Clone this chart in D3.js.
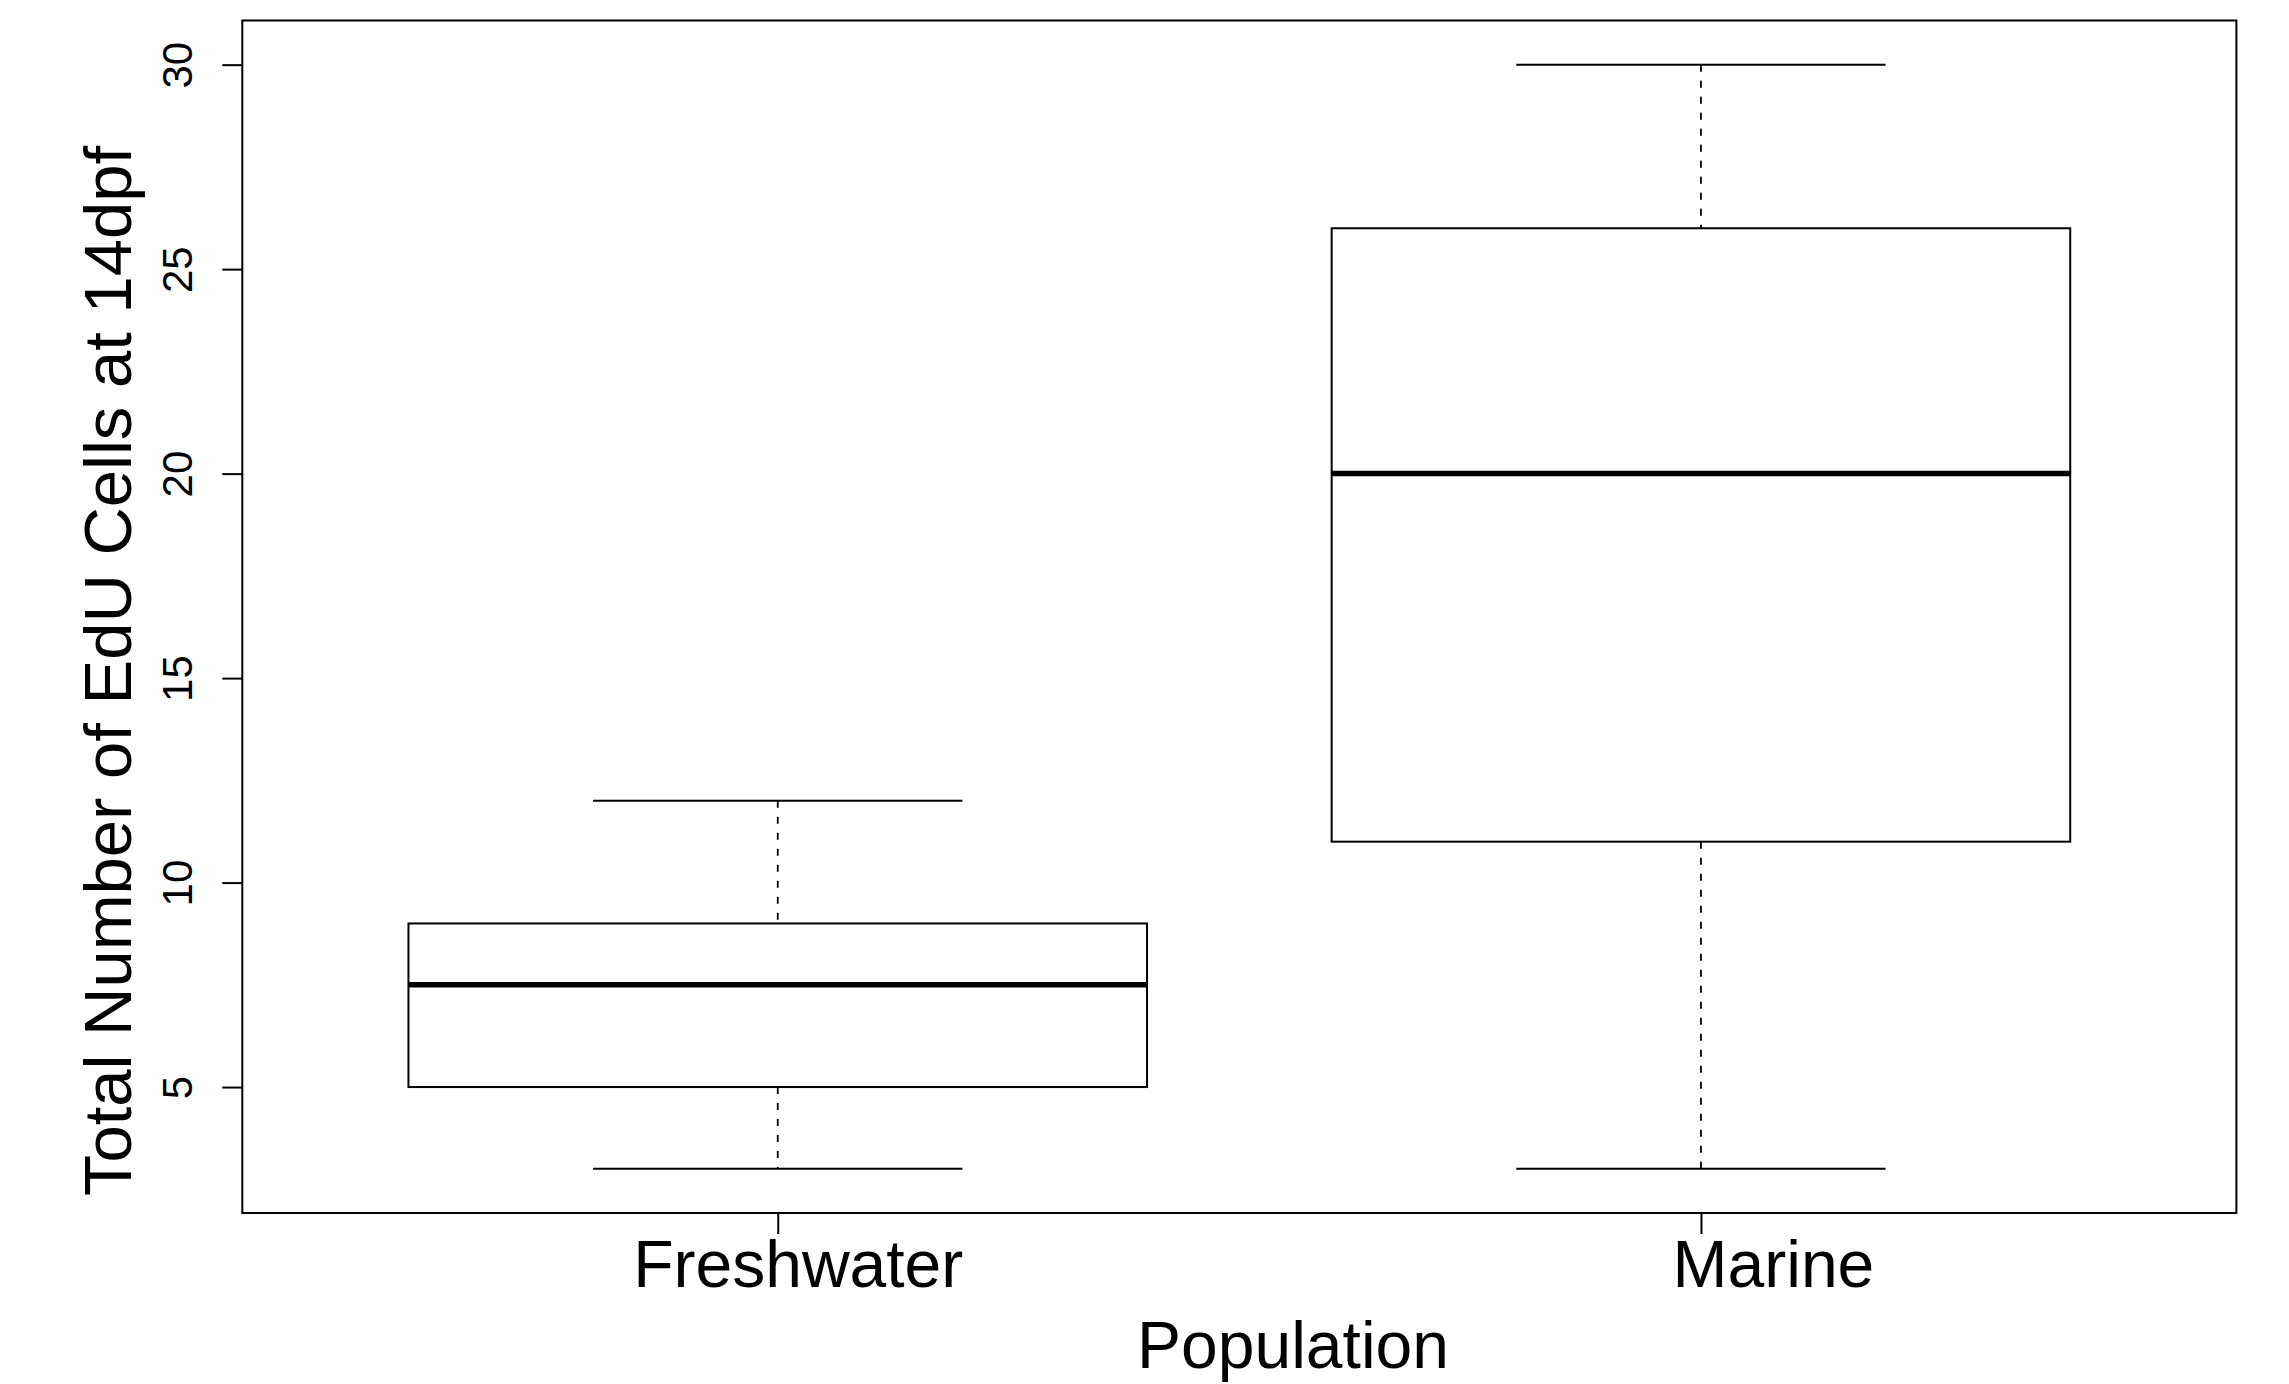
<!DOCTYPE html>
<html>
<head>
<meta charset="utf-8">
<script src="https://cdn.jsdelivr.net/npm/d3@7"></script>
<style>
  html, body { margin: 0; padding: 0; background: #fff; }
  svg { display: block; }
  text { font-family: "Liberation Sans", Arial, Helvetica, sans-serif; fill: #000; }
</style>
</head>
<body>
<div id="chart"></div>
<script>
// boxplot summary per population
const populations = ["Freshwater", "Marine"]
const lowerWhisker = [3, 3]
const q1 = [5, 11]
const median = [7.5, 20]
const q3 = [9, 26]
const upperWhisker = [12, 30]
const yTicks = [5, 10, 15, 20, 25, 30]

const yTitle = "Total Number of EdU Cells at 14dpf"
const xTitle = "Population"

const width = 2289
const height = 1384
const plot = { left: 242.3, right: 2236.4, top: 20.5, bottom: 1213 }

// tick labels in the original sit a bit to the right of their ticks
const labelNudge = { Freshwater: 20, Marine: 72 }

const data = populations.map((name, i) => ({
    name, pos: i + 1,
    lo: lowerWhisker[i], q1: q1[i], med: median[i], q3: q3[i], hi: upperWhisker[i]
}))

// R style extents: 4% padding on each side
const allVals = lowerWhisker.concat(upperWhisker)
const yMin = d3.min(allVals), yMax = d3.max(allVals)
const yPad = (yMax - yMin) * 0.04
const xPad = populations.length * 0.04

const x = d3.scaleLinear()
    .domain([0.5 - xPad, populations.length + 0.5 + xPad])
    .range([plot.left, plot.right])
const y = d3.scaleLinear()
    .domain([yMin - yPad, yMax + yPad])
    .range([plot.bottom, plot.top])

const boxW = x(1.4) - x(1)   // boxwex 0.8 -> half width 0.4
const capW = boxW / 2

const svg = d3.select("#chart").append("svg")
    .attr("width", width)
    .attr("height", height)

const lw = 2

const g = svg.append("g")

const boxes = g.selectAll("g.box")
    .data(data)
    .enter()
    .append("g")
    .attr("class", "box")

// dashed whiskers
boxes.append("line")
    .attr("x1", d => x(d.pos)).attr("x2", d => x(d.pos))
    .attr("y1", d => y(d.hi)).attr("y2", d => y(d.q3))
    .attr("stroke", "#000").attr("stroke-width", 1.8)
    .attr("stroke-dasharray", "7,9")
boxes.append("line")
    .attr("x1", d => x(d.pos)).attr("x2", d => x(d.pos))
    .attr("y1", d => y(d.q1)).attr("y2", d => y(d.lo))
    .attr("stroke", "#000").attr("stroke-width", 1.8)
    .attr("stroke-dasharray", "7,9")

// staples
boxes.append("line")
    .attr("x1", d => x(d.pos) - capW).attr("x2", d => x(d.pos) + capW)
    .attr("y1", d => y(d.hi)).attr("y2", d => y(d.hi))
    .attr("stroke", "#000").attr("stroke-width", lw)
boxes.append("line")
    .attr("x1", d => x(d.pos) - capW).attr("x2", d => x(d.pos) + capW)
    .attr("y1", d => y(d.lo)).attr("y2", d => y(d.lo))
    .attr("stroke", "#000").attr("stroke-width", lw)

// box
boxes.append("rect")
    .attr("x", d => x(d.pos) - boxW)
    .attr("width", boxW * 2)
    .attr("y", d => y(d.q3))
    .attr("height", d => y(d.q1) - y(d.q3))
    .attr("fill", "none")
    .attr("stroke", "#000").attr("stroke-width", lw)

// median
boxes.append("line")
    .attr("x1", d => x(d.pos) - boxW).attr("x2", d => x(d.pos) + boxW)
    .attr("y1", d => y(d.med)).attr("y2", d => y(d.med))
    .attr("stroke", "#000").attr("stroke-width", 5.5)

// frame
svg.append("rect")
    .attr("x", plot.left).attr("y", plot.top)
    .attr("width", plot.right - plot.left)
    .attr("height", plot.bottom - plot.top)
    .attr("fill", "none")
    .attr("stroke", "#000").attr("stroke-width", 2)

// y axis
const yAxis = svg.append("g")
    .attr("transform", `translate(${plot.left},0)`)
    .call(d3.axisLeft(y).tickValues(yTicks).tickSize(20).tickFormat(d3.format("d")))
yAxis.select(".domain").remove()
yAxis.selectAll(".tick line").attr("stroke", "#000").attr("stroke-width", lw)
yAxis.selectAll(".tick text")
    .attr("x", null).attr("dy", null)
    .attr("transform", "translate(-50,0) rotate(-90)")
    .attr("text-anchor", "middle")
    .style("font-size", "42px")
    .style("font-family", "'Liberation Sans', Arial, sans-serif")
    .attr("fill", "#000")

// x axis
const xAxis = svg.append("g")
    .attr("transform", `translate(0,${plot.bottom})`)
    .call(d3.axisBottom(x).tickValues(data.map(d => d.pos)).tickSize(21)
        .tickFormat(p => populations[p - 1]))
xAxis.select(".domain").remove()
xAxis.selectAll(".tick line").attr("stroke", "#000").attr("stroke-width", lw)
xAxis.selectAll(".tick text")
    .attr("y", 74).attr("dy", null)
    .attr("x", p => labelNudge[populations[p - 1]])
    .attr("text-anchor", "middle")
    .style("font-size", "66px")
    .style("font-family", "'Liberation Sans', Arial, sans-serif")
    .attr("fill", "#000")

// axis titles
svg.append("text")
    .attr("transform", "translate(131,671) rotate(-90)")
    .attr("text-anchor", "middle")
    .style("font-size", "67px")
    .text(yTitle)

svg.append("text")
    .attr("x", 1293).attr("y", 1368)
    .attr("text-anchor", "middle")
    .style("font-size", "66px")
    .text(xTitle)
</script>
</body>
</html>
